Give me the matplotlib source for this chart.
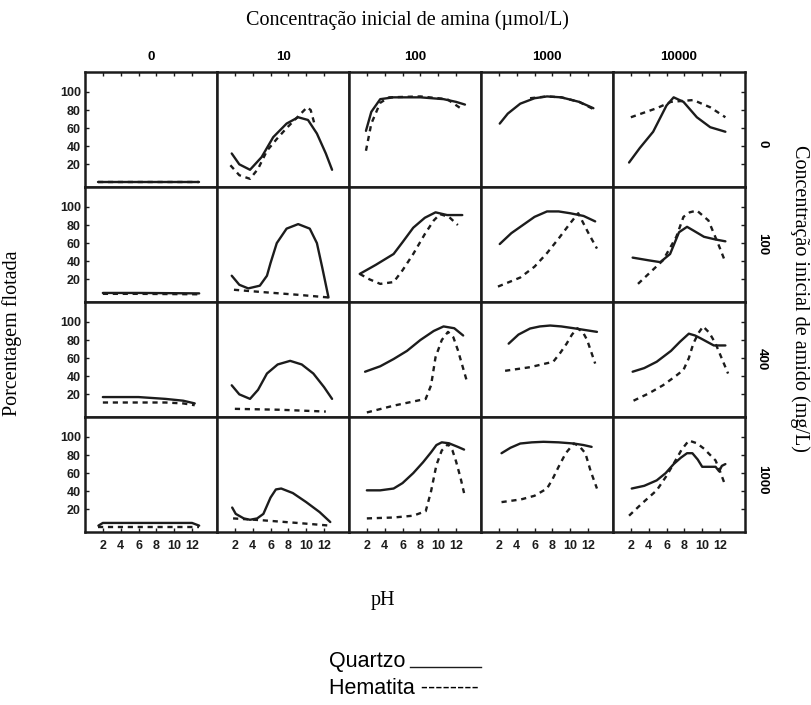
import matplotlib
matplotlib.use('Agg')
import matplotlib.pyplot as plt
from matplotlib.lines import Line2D


# Amine concentrations (columns) and starch concentrations (rows)
amina = [0, 10, 100, 1000, 10000]
amido = [0, 100, 400, 1000]
ph_ticks = [2, 4, 6, 8, 10, 12]
pct_ticks = [20, 40, 60, 80, 100]

# Quartzo (solid) and Hematita (dashed), one dict per starch level,
# keyed by amine concentration: (pH, % flotada)
quartzo_amido0 = {
    0: ([1.5, 4, 8, 12.8], [1, 1, 1, 1]),
    10: ([1.65, 2.5, 3.7, 5, 6.3, 7.8, 9.1, 10.2, 11.2, 12.2, 12.9],
         [32, 20, 14, 28, 50, 65, 72, 69, 54, 32, 14]),
    100: ([1.9, 2.5, 3.5, 5, 8, 10.6, 12, 13], [57, 78, 92, 94, 94, 92, 89, 86]),
    1000: ([2.1, 3, 4.4, 6, 7.4, 9, 11, 12.6], [65, 76, 87, 93, 95, 94, 89, 82]),
    10000: ([1.8, 3, 4.5, 6, 6.8, 7.9, 9.4, 10.9, 12.6],
            [22, 38, 56, 85, 94, 89, 72, 61, 56]),
}
hematita_amido0 = {
    0: ([1.5, 4, 8, 12.8], [0, 0, 0, 0]),
    10: ([1.5, 2.5, 3.7, 4.6, 5.6, 6.7, 7.8, 9, 10.1, 10.5, 11],
         [19, 8, 4, 15, 35, 48, 60, 72, 83, 80, 62]),
    100: ([1.9, 2.5, 3.5, 4.5, 8, 11, 12.8], [35, 65, 88, 94, 95, 92, 80]),
    1000: ([5.5, 7.4, 9, 11, 12.6], [93, 95, 94, 89, 81]),
    10000: ([2, 4.9, 6.5, 9, 10.9, 12.6], [72, 82, 89, 91, 83, 72]),
}

quartzo_amido100 = {
    0: ([2, 6, 12.8], [5, 5, 4.5]),
    10: ([1.65, 2.5, 3.5, 4.8, 5.6, 6, 6.7, 7.8, 9.1, 10.4, 11.2, 11.8, 12.5],
         [24, 14, 10, 13, 24, 38, 60, 76, 81, 76, 60, 33, 0]),
    100: ([1.2, 3, 5, 6, 7.2, 8.5, 9.7, 11, 12.7], [26, 36, 48, 61, 77, 88, 94, 91, 91]),
    1000: ([2.1, 3.4, 4.7, 6, 7.4, 8.7, 10, 11.5, 12.8], [59, 71, 80, 89, 95, 95, 93, 90, 84]),
    10000: ([2.2, 4, 5.3, 6.4, 7.4, 8.3, 9, 10.2, 11.5, 12.6],
            [44, 41, 39, 48, 72, 78, 74, 67, 64, 62]),
}
hematita_amido100 = {
    0: ([2, 6, 12.8], [4, 4, 3.5]),
    10: ([1.9, 5, 9, 12.5], [8.5, 6, 3, 0]),
    100: ([1.2, 2.3, 3.5, 5, 6, 7.2, 8.5, 9.5, 10.2, 11.2, 12.2],
          [26, 20, 15, 17, 30, 48, 70, 85, 92, 89, 80]),
    1000: ([1.9, 4.4, 6, 7.4, 8.7, 10, 10.9, 12.1, 13], [12, 22, 34, 49, 65, 82, 93, 70, 54]),
    10000: ([2.8, 4.2, 5.6, 7.1, 7.9, 8.6, 9.4, 10.7, 11.8, 12.6],
            [15, 28, 41, 67, 89, 94, 96, 85, 59, 39]),
}

quartzo_amido400 = {
    0: ([2, 6, 9, 11, 12.3], [17, 17, 15, 13, 10]),
    10: ([1.65, 2.5, 3.7, 4.6, 5.6, 6.8, 8.2, 9.5, 10.8, 12, 12.9],
         [30, 20, 15, 25, 43, 53, 57, 53, 43, 28, 15]),
    100: ([1.8, 3.5, 5, 6.5, 8, 9.5, 10.6, 11.8, 12.8], [45, 51, 59, 68, 80, 90, 95, 93, 85]),
    1000: ([3.1, 4.2, 5.5, 6.6, 7.75, 9, 10.4, 11.7, 13], [76, 86, 92.7, 95, 96, 95, 93, 91, 89]),
    10000: ([2.2, 3.5, 4.9, 6.5, 7.5, 8.5, 9.2, 9.8, 11.3, 12.6],
            [45, 49, 56, 68, 78, 87, 85, 82, 74, 74]),
}
hematita_amido400 = {
    0: ([2, 6, 9, 11, 12.3], [11, 11, 11, 10, 8]),
    10: ([2, 7, 12.2], [4, 3, 1]),
    100: ([2, 5, 8.6, 9.2, 9.7, 10.4, 11.1, 11.7, 12.2, 13.2],
          [0, 7.5, 15, 30, 61, 80, 89, 83, 69, 35]),
    1000: ([2.7, 5.5, 8.1, 8.9, 9.6, 10.2, 10.8, 11.4, 11.9, 12.8],
           [46, 50, 56, 66, 76, 86, 93, 89, 80, 54]),
    10000: ([2.3, 4, 5.6, 7, 7.9, 8.5, 9, 9.6, 10.1, 10.8, 11.5, 12.9],
            [13, 21, 30, 40, 47, 60, 76, 88, 95, 88, 76, 43]),
}

quartzo_amido1000 = {
    0: ([1.5, 2, 12, 12.8], [2, 5, 5, 2]),
    10: ([1.7, 2.1, 3, 3.7, 4.5, 5.2, 6, 6.6, 7.2, 8.5, 10, 11.5, 12.7],
         [22, 15, 10, 8.5, 10, 15, 33, 42, 43, 38, 28, 17, 6]),
    100: ([2, 3.5, 5, 6, 7.2, 8.3, 9.2, 9.8, 10.4, 11.2, 12.2, 12.9],
          [41, 41, 43, 49, 60, 72, 83, 91, 94, 93, 89, 86]),
    1000: ([2.3, 3.3, 4.4, 5.7, 7, 8.7, 10.4, 11.5, 12.4], [82, 88, 92.7, 94, 94.6, 94, 92.7, 91, 89]),
    10000: ([2.1, 3.5, 4.9, 5.9, 6.8, 7.6, 8.3, 8.9, 9.5, 10, 11.5, 11.9, 12.2, 12.6],
            [43, 46, 52, 60, 70, 77, 82, 82, 75, 67, 67, 62, 68, 70]),
}
hematita_amido1000 = {
    0: ([1.5, 12.8], [1, 1]),
    10: ([1.8, 5, 9, 12.7], [10, 8, 5, 2]),
    100: ([2, 5, 7.2, 8.6, 9.2, 9.8, 10.4, 11.1, 11.6, 12, 12.5, 12.9],
          [10, 11, 13, 18, 40, 69, 85, 92, 85, 73, 55, 38]),
    1000: ([2.3, 4.5, 6, 7.4, 8, 8.7, 9.5, 10.4, 11, 11.7, 12.3, 13],
           [28, 31, 35, 43, 53, 67, 82, 92.7, 90, 82, 62, 43]),
    10000: ([1.8, 3.3, 4.9, 6, 6.8, 7.7, 8.5, 9.4, 10.2, 11.5, 12, 12.6],
            [13, 27, 41, 57, 70.5, 86, 96, 93, 87, 74, 62, 46]),
}

quartzo_rows = [quartzo_amido0, quartzo_amido100, quartzo_amido400, quartzo_amido1000]
hematita_rows = [hematita_amido0, hematita_amido100, hematita_amido400, hematita_amido1000]


ink = '#1c1c1c'
fig, axes = plt.subplots(4, 5, figsize=(8.12, 7.05), dpi=100)
fig.subplots_adjust(left=0.1047, right=0.9175, top=0.8979, bottom=0.2454,
                    wspace=0, hspace=0)

row_label_y = [0.38, 0.5, 0.5, 0.45]

for r in range(4):
    for c in range(5):
        ax = axes[r, c]
        ph_q, val_q = quartzo_rows[r][amina[c]]
        ph_h, val_h = hematita_rows[r][amina[c]]
        ax.plot(ph_q, val_q, color=ink, lw=1.7, solid_capstyle='round',
                solid_joinstyle='round')
        ax.plot(ph_h, val_h, color=ink, lw=1.7, linestyle=(0, (2.2, 2.0)))
        ax.set_xlim(0, 14.8)
        ax.set_ylim(-5, 122)
        ax.set_xticks(ph_ticks)
        ax.set_yticks(pct_ticks)
        for s in ax.spines.values():
            s.set_linewidth(1.8)
            s.set_color(ink)
        ax.tick_params(direction='in', length=3, width=1, colors=ink,
                       top=(r == 0), bottom=(r == 3), left=(c == 0), right=(c == 4),
                       labelleft=(c == 0), labelbottom=(r == 3),
                       labelsize=9, pad=3)
        ax.tick_params(axis='x', pad=6)
        for lab in ax.get_xticklabels() + ax.get_yticklabels():
            lab.set_fontweight('bold')
            lab.set_family('Liberation Sans')
        if r == 0:
            ax.text(0.5, 1.13, str(amina[c]), transform=ax.transAxes, ha='center',
                    va='center', fontsize=9.5, fontweight='bold', family='Liberation Sans')
        if c == 4:
            ax.text(1.13, row_label_y[r], str(amido[r]), transform=ax.transAxes,
                    ha='center', va='center', rotation=-90, fontsize=9.5,
                    fontweight='bold', family='Liberation Sans')

serif = 'Liberation Serif'
fig.text(407 / 812, 1 - 20 / 705, 'Concentração inicial de amina (µmol/L)',
         ha='center', va='center', family=serif, fontsize=14.5)
fig.text(12 / 812, 1 - 333 / 705, 'Porcentagem flotada', rotation=90,
         ha='center', va='center', family=serif, fontsize=14.5)
fig.text(800 / 812, 1 - 298 / 705, 'Concentração inicial de amido (mg/L)', rotation=-90,
         ha='center', va='center', family=serif, fontsize=14.5)
fig.text(383 / 812, 1 - 600 / 705, 'pH', ha='center', va='center', family=serif, fontsize=14.5)

# legend written as text, like the original
fig.text(329 / 812, 1 - 661 / 705, 'Quartzo', ha='left', va='center',
         family='Liberation Sans', fontsize=15.5)
fig.add_artist(Line2D([410 / 812, 481 / 812], [1 - 667 / 705, 1 - 667 / 705],
                      transform=fig.transFigure, color=ink, lw=1))
fig.text(329 / 812, 1 - 688 / 705, 'Hematita --------', ha='left', va='center',
         family='Liberation Sans', fontsize=15.5)

fig.savefig('out.png', dpi=100)
